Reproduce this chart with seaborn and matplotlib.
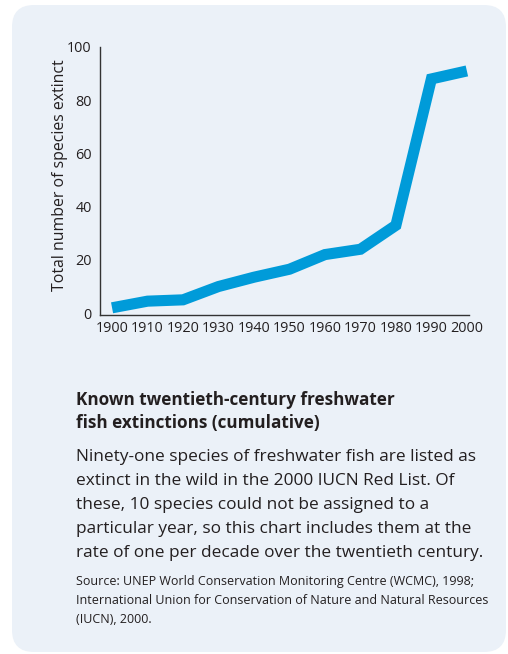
import matplotlib
matplotlib.use("Agg")
import matplotlib.pyplot as plt
import seaborn as sns
import pandas as pd
from matplotlib.patches import FancyBboxPatch

# data
years = [1900, 1910, 1920, 1930, 1940, 1950, 1960, 1970, 1980, 1990, 2000]
extinct = [2, 4.5, 5, 10, 13.5, 16.5, 22, 24, 33, 88, 91]
y_ticks = [0, 20, 40, 60, 80, 100]

df = pd.DataFrame({"year": years, "extinct": extinct})

sns.set_style("white")
plt.rcParams["font.family"] = ["Open Sans", "DejaVu Sans"]

text_col = "#231f20"
panel_col = "#ebf1f8"
line_col = "#009bd9"

fig = plt.figure(figsize=(5.08, 6.54), dpi=100)
fig.patch.set_facecolor("white")

# rounded background panel (inches)
panel = FancyBboxPatch((0.12, 0.02), 4.94, 6.47,
                       boxstyle="round,pad=0,rounding_size=0.22",
                       transform=fig.dpi_scale_trans,
                       facecolor=panel_col, edgecolor="none", zorder=-10)
fig.patches.append(panel)

ax = fig.add_axes([100 / 508, 1 - 315 / 654, 369 / 508, 268 / 654])
ax.set_facecolor("none")
ax.set_zorder(5)
sns.lineplot(data=df, x="year", y="extinct", ax=ax, color=line_col,
             linewidth=8, solid_joinstyle="miter", solid_capstyle="butt")

ax.set_xlim(1896.6, 2000.6)
ax.set_ylim(-0.7, 100)
ax.set_xticks(years)
ax.set_yticks(y_ticks)
ax.tick_params(axis="both", length=0, labelsize=10.4, colors=text_col)
ax.tick_params(axis="y", pad=6)
ax.tick_params(axis="x", pad=4)
ax.set_xlabel("")
ax.set_ylabel("Total number of species extinct", fontsize=11.4, color=text_col)
ax.yaxis.set_label_coords(-0.087, 0.52)
sns.despine(ax=ax)
for s in ["left", "bottom"]:
    ax.spines[s].set_color("#333333")
    ax.spines[s].set_linewidth(1.0)

# caption text
x0 = 76 / 508
fig.text(x0, 1 - 405 / 654, "Known twentieth-century freshwater", fontsize=12.3,
         fontweight="bold", color=text_col, va="baseline")
fig.text(x0, 1 - 428 / 654, "fish extinctions (cumulative)", fontsize=12.3,
         fontweight="bold", color=text_col, va="baseline")

body = ["Ninety-one species of freshwater fish are listed as",
        "extinct in the wild in the 2000 IUCN Red List. Of",
        "these, 10 species could not be assigned to a",
        "particular year, so this chart includes them at the",
        "rate of one per decade over the twentieth century."]
for i, line in enumerate(body):
    fig.text(x0, 1 - (461 + 24 * i) / 654, line, fontsize=12.4,
             color=text_col, va="baseline")

source = ["Source: UNEP World Conservation Monitoring Centre (WCMC), 1998;",
          "International Union for Conservation of Nature and Natural Resources",
          "(IUCN), 2000."]
for i, line in enumerate(source):
    fig.text(x0, 1 - (585 + 19 * i) / 654, line, fontsize=9.0,
             color=text_col, va="baseline")

fig.savefig("out.png", dpi=100)
